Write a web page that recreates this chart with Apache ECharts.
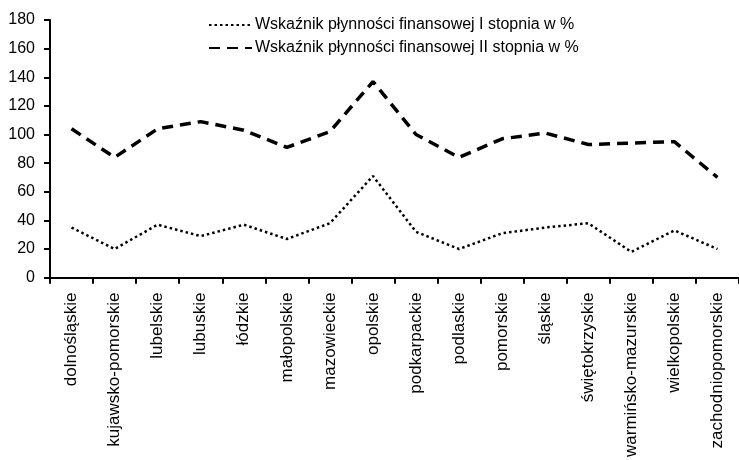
<!DOCTYPE html>
<html>
<head>
<meta charset="utf-8">
<script src="https://cdn.jsdelivr.net/npm/echarts@6/dist/echarts.min.js"></script>
<style>
html, body { margin: 0; padding: 0; background: #fff; }
#chart { width: 739px; height: 460px; }
</style>
</head>
<body>
<div id="chart"></div>
<script>
var regions = ['dolnośląskie', 'kujawsko-pomorskie', 'lubelskie', 'lubuskie', 'łódzkie', 'małopolskie',
    'mazowieckie', 'opolskie', 'podkarpackie', 'podlaskie', 'pomorskie', 'śląskie',
    'świętokrzyskie', 'warmińsko-mazurskie', 'wielkopolskie', 'zachodniopomorskie'];
var nameI = 'Wskaźnik płynności finansowej I stopnia w %';
var nameII = 'Wskaźnik płynności finansowej II stopnia w %';
var valuesI = [35, 20, 37, 29, 37, 27, 38, 71, 32, 20, 31, 35, 38, 18, 33, 20];
var valuesII = [104, 84, 104, 109, 103, 91, 102, 137, 100, 84, 97, 101, 93, 94, 95, 70];

var dom = document.getElementById('chart');
var myChart = echarts.init(dom);

var font = 'Liberation Sans, Arial, sans-serif';

var option = {
    animation: false,
    backgroundColor: '#fff',
    color: ['#000', '#000'],
    legend: {
        orient: 'vertical',
        left: 203,
        top: 12,
        itemGap: 7,
        itemWidth: 43,
        itemHeight: 16,
        itemStyle: { color: 'transparent', borderColor: 'transparent', borderWidth: 0 },
        textStyle: { fontFamily: font, fontSize: 16, color: '#000', padding: [0, 0, 0, -2] },
        data: [nameI, nameII]
    },
    grid: {
        left: 50,
        top: 20,
        width: 693,
        height: 259
    },
    xAxis: {
        type: 'category',
        data: regions,
        boundaryGap: true,
        axisLine: { lineStyle: { color: '#000', width: 2 } },
        axisTick: { show: true, length: 6, lineStyle: { color: '#000', width: 2 } },
        axisLabel: {
            rotate: 90,
            interval: 0,
            margin: 15,
            color: '#000',
            fontFamily: font,
            fontSize: 17
        }
    },
    yAxis: {
        type: 'value',
        min: 0,
        max: 180,
        interval: 20,
        axisLine: { show: true, lineStyle: { color: '#000', width: 2 } },
        axisTick: { show: true, length: 6, lineStyle: { color: '#000', width: 2 } },
        splitLine: { show: false },
        axisLabel: {
            margin: 15,
            color: '#000',
            fontFamily: font,
            fontSize: 16
        }
    },
    series: [
        {
            name: nameI,
            type: 'line',
            data: valuesI,
            symbol: 'none',
            lineStyle: { color: '#000', width: 2.5, type: [2.5, 3] }
        },
        {
            name: nameII,
            type: 'line',
            data: valuesII,
            symbol: 'none',
            lineStyle: { color: '#000', width: 3.5, type: [11, 7] }
        }
    ]
};

if (option && typeof option === 'object') {
    myChart.setOption(option, true);
}

window.addEventListener('resize', function () {
    myChart.resize();
});
</script>
</body>
</html>
